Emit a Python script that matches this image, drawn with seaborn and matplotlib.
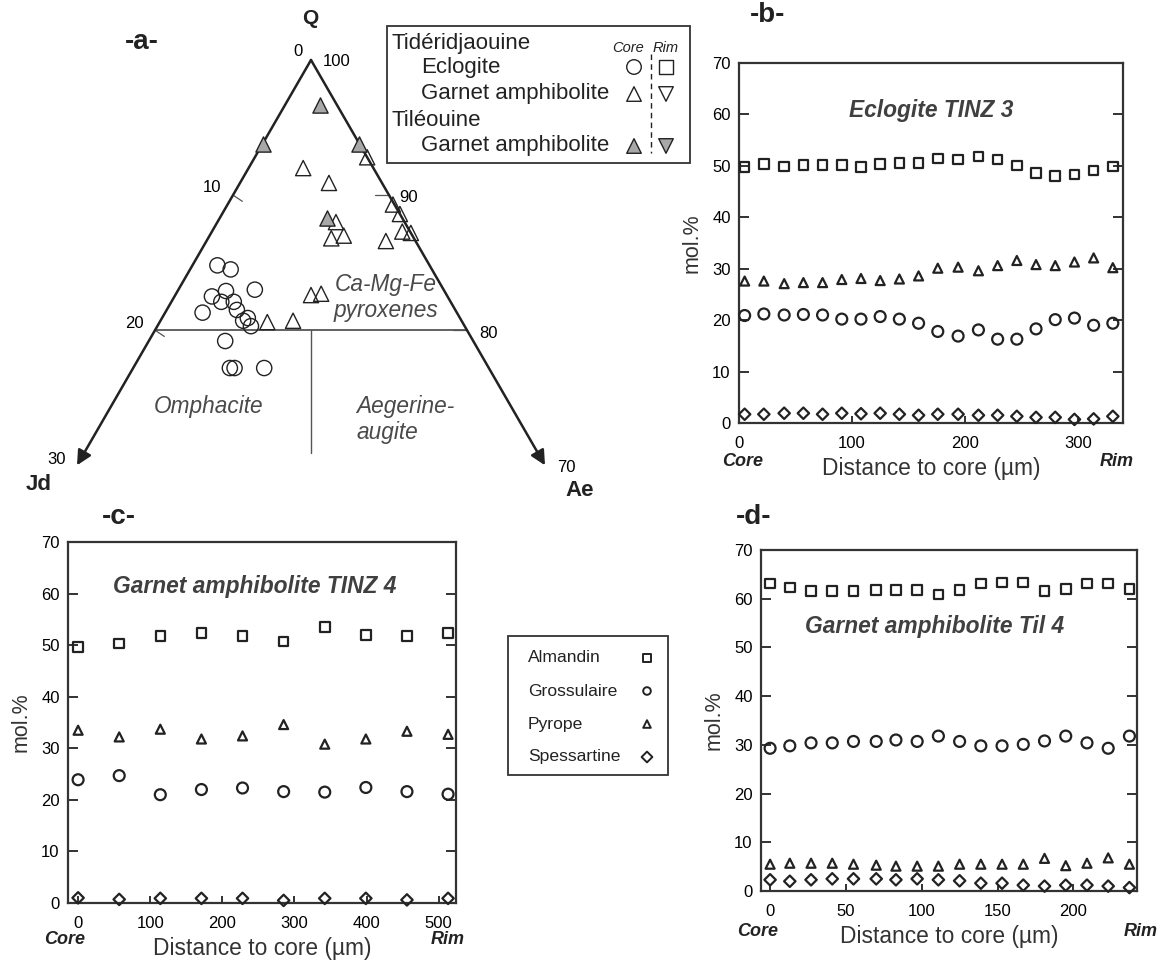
import numpy as np
import pandas as pd
import matplotlib
matplotlib.use("Agg")
import matplotlib.pyplot as plt
import seaborn as sns

sns.set_style("ticks")
plt.rcParams['font.family'] = ['Liberation Sans', 'DejaVu Sans']

# ==========================================
# DATA
# ==========================================

# -a- clinopyroxene Q / Jd (mol.%), Ae = 100 - Q - Jd
ecl_Q = [84.8, 84.5, 83.0, 82.9, 82.5, 82.1, 82.1, 81.3, 81.5, 80.9, 80.7, 80.3, 79.2, 77.2, 77.2, 77.2]
ecl_Jd = [13.6, 12.9, 12.1, 14.0, 15.1, 14.7, 13.9, 16.3, 14.0, 13.6, 14.0, 13.7, 15.9, 16.6, 16.3, 14.4]
amp_Q = [92.8, 92.0, 90.9, 89.3, 88.6, 88.0, 87.0, 86.8, 86.6, 87.3, 87.2, 82.6, 82.7, 80.6, 80.7]
amp_Jd = [0.0, 4.5, 3.4, 0.1, 0.0, 4.4, 4.4, 5.3, 1.9, 0.5, 0.0, 8.7, 8.0, 12.5, 10.8]
til_Q = [96.7, 93.8, 93.8, 88.3]
til_Jd = [1.1, 6.2, 0.0, 4.8]

# -b- Eclogite TINZ 3
b_dist = [5, 22, 40, 57, 74, 91, 108, 125, 142, 159, 176, 194, 212, 229, 246, 263, 280, 297, 314, 331]
b_alm = [49.8, 50.4, 49.9, 50.2, 50.2, 50.2, 49.8, 50.4, 50.6, 50.5, 51.4, 51.2, 51.8, 51.2, 50.1, 48.6, 48.0, 48.3, 49.1, 49.9]
b_grs = [20.9, 21.2, 21.0, 21.1, 21.0, 20.2, 20.2, 20.7, 20.2, 19.4, 17.8, 16.9, 18.1, 16.3, 16.3, 18.3, 20.1, 20.4, 19.0, 19.4]
b_prp = [27.6, 27.6, 27.1, 27.3, 27.3, 27.9, 28.1, 27.7, 28.0, 28.6, 30.1, 30.3, 29.6, 30.6, 31.6, 30.8, 30.6, 31.3, 32.1, 30.2]
b_sps = [1.7, 1.7, 1.9, 1.9, 1.7, 1.9, 1.8, 1.9, 1.7, 1.5, 1.7, 1.7, 1.5, 1.5, 1.3, 1.1, 1.1, 0.7, 0.8, 1.3]

# -c- Garnet amphibolite TINZ 4
c_dist = [0, 57, 114, 171, 228, 285, 342, 399, 456, 513]
c_alm = [49.7, 50.3, 51.8, 52.3, 51.8, 50.7, 53.5, 52.0, 51.8, 52.4]
c_grs = [23.9, 24.7, 21.0, 22.0, 22.3, 21.6, 21.5, 22.4, 21.6, 21.1]
c_prp = [33.5, 32.2, 33.7, 31.8, 32.4, 34.6, 30.8, 31.8, 33.3, 32.7]
c_sps = [1.0, 0.7, 0.9, 0.9, 0.9, 0.5, 0.9, 0.9, 0.6, 0.9]

# -d- Garnet amphibolite Til 4
d_dist = [0, 13, 27, 41, 55, 70, 83, 97, 111, 125, 139, 153, 167, 181, 195, 209, 223, 237]
d_alm = [63.1, 62.3, 61.6, 61.6, 61.6, 61.8, 61.8, 61.8, 60.9, 61.8, 63.1, 63.3, 63.3, 61.6, 62.0, 63.1, 63.1, 62.0]
d_grs = [29.3, 29.8, 30.4, 30.4, 30.7, 30.7, 31.0, 30.7, 31.8, 30.7, 29.8, 29.8, 30.1, 30.8, 31.8, 30.4, 29.3, 31.8]
d_prp = [5.5, 5.7, 5.7, 5.7, 5.5, 5.3, 5.1, 5.1, 5.1, 5.5, 5.5, 5.5, 5.5, 6.7, 5.2, 5.7, 6.8, 5.5]
d_sps = [2.3, 2.0, 2.3, 2.5, 2.5, 2.5, 2.3, 2.5, 2.3, 2.1, 1.6, 1.6, 1.2, 1.0, 1.2, 1.2, 1.0, 0.7]

members = ["Almandin", "Grossulaire", "Pyrope", "Spessartine"]
member_markers = {"Almandin": "s", "Grossulaire": "o", "Pyrope": "^", "Spessartine": "D"}
member_sizes = {"Almandin": 48, "Grossulaire": 62, "Pyrope": 42, "Spessartine": 34}

INK = "#222222"
W, H = 1165, 960


def tern_xy(Q, Jd):
    Q = np.asarray(Q, float) / 100
    Ae = 1 - Q - np.asarray(Jd, float) / 100
    return Ae + Q / 2, Q * np.sqrt(3) / 2


def px_box(x0, y0, x1, y1):
    return [x0 / W, 1 - y1 / H, (x1 - x0) / W, (y1 - y0) / H]


fig = plt.figure(figsize=(W / 100, H / 100), dpi=100)

# ==========================================
# -a- TERNARY
# ==========================================
ta = fig.add_axes(px_box(0, 0, 600, 480))
h = np.sqrt(3) / 2
ta.set_xlim(0.5 - 311 / 1560, 0.5 + 289 / 1560)
ta.set_ylim(h - 420 / 1560, h + 60 / 1560)
ta.axis("off")

apex = (0.5, h)
for end in [(0.35, 0.7 * h), (0.65, 0.7 * h)]:
    ta.annotate("", xy=end, xytext=apex,
                arrowprops=dict(arrowstyle="-|>", lw=1.8, color=INK,
                                mutation_scale=22, shrinkA=0, shrinkB=0))
ta.plot([0.4, 0.6], [0.8 * h, 0.8 * h], color="#555555", lw=1.3)
ta.plot([0.5, 0.5], [0.8 * h, h - 393 / 1560], color="#555555", lw=1.0)
# small ticks at 10 / 20 %
for q in [0.9, 0.8]:
    ta.plot([q / 2, q / 2 + 0.006], [q * h, q * h - 0.004], color="#555555", lw=0.9)
    ta.plot([1 - q / 2, 1 - q / 2 - 0.009], [q * h, q * h], color="#555555", lw=0.9)

ex, ey = tern_xy(ecl_Q, ecl_Jd)
sns.scatterplot(x=ex, y=ey, marker="o", s=120, facecolor="none", edgecolor=INK,
                linewidth=1.0, ax=ta, legend=False, zorder=3)
ax_, ay_ = tern_xy(amp_Q, amp_Jd)
sns.scatterplot(x=ax_, y=ay_, marker="^", s=120, facecolor="none", edgecolor=INK,
                linewidth=1.0, ax=ta, legend=False, zorder=3)
tx, ty = tern_xy(til_Q, til_Jd)
sns.scatterplot(x=tx, y=ty, marker="^", s=120, facecolor="#a8a8a8", edgecolor=INK,
                linewidth=1.0, ax=ta, legend=False, zorder=3)

# ==========================================
# -b- -c- -d- GARNET PROFILES
# ==========================================
panels = [
    ("b", px_box(739, 63, 1123, 423), b_dist, [b_alm, b_grs, b_prp, b_sps],
     (0, 340), [0, 100, 200, 300], "Eclogite TINZ 3"),
    ("c", px_box(68, 542, 456, 903), c_dist, [c_alm, c_grs, c_prp, c_sps],
     (-14, 524), [0, 100, 200, 300, 400, 500], "Garnet amphibolite TINZ 4"),
    ("d", px_box(761, 550, 1137, 891), d_dist, [d_alm, d_grs, d_prp, d_sps],
     (-6, 242), [0, 50, 100, 150, 200], "Garnet amphibolite Til 4"),
]
axes = {}
for key, box, dist, series, xlim, xticks, title in panels:
    ax = fig.add_axes(box)
    axes[key] = ax
    df = pd.DataFrame({"dist": dist})
    for name, vals in zip(members, series):
        df[name] = vals
    long = df.melt(id_vars="dist", var_name="member", value_name="mol")
    for name in members:
        sub = long[long["member"] == name]
        sns.scatterplot(data=sub, x="dist", y="mol", marker=member_markers[name],
                        s=member_sizes[name], facecolor="none", edgecolor=INK,
                        linewidth=1.6, ax=ax, legend=False, zorder=3, clip_on=False)
    ax.set_xlim(*xlim)
    ax.set_ylim(0, 70)
    ax.set_xticks(xticks)
    ax.set_yticks(range(0, 71, 10))
    ax.tick_params(axis="y", direction="in", right=True, length=7, width=1.3,
                   labelsize=12, pad=6, colors=INK, labelcolor="black")
    ax.tick_params(axis="x", direction="in", length=5, width=1.3,
                   labelsize=12, pad=9, colors=INK, labelcolor="black")
    for sp in ax.spines.values():
        sp.set_linewidth(1.6)
        sp.set_color("#333333")
    ax.set_xlabel("Distance to core (µm)", fontsize=16.4, color="#333333", labelpad=5)
    ax.set_ylabel("mol.%", fontsize=15.5, color="#333333", labelpad=7)

# ==========================================
# OVERLAY (labels, legends)
# ==========================================
ov = fig.add_axes([0, 0, 1, 1])
ov.set_xlim(0, W)
ov.set_ylim(H, 0)
ov.axis("off")

bold = dict(fontweight="bold", color=INK, ha="center", va="center")
ov.text(142, 42, "-a-", fontsize=20, **bold)
ov.text(768, 15, "-b-", fontsize=20, **bold)
ov.text(119, 517, "-c-", fontsize=20, **bold)
ov.text(754, 517, "-d-", fontsize=20, **bold)
ov.text(310, 18, "Q", fontsize=15, **bold)
ov.text(39, 485, "Jd", fontsize=16, **bold)
ov.text(580, 491, "Ae", fontsize=16, **bold)

num = dict(fontsize=12, color="black", ha="center", va="center")
for s, x, y in [("0", 298, 52), ("100", 337, 62), ("10", 212, 188), ("90", 409, 197),
                ("20", 134, 323), ("80", 488, 333), ("30", 57, 459), ("70", 566, 468)]:
    ov.text(x, y, s, **num)

reg = dict(fontsize=16.3, style="italic", color="#4a4a4a", va="center")
ov.text(386, 285, "Ca-Mg-Fe", ha="center", **reg)
ov.text(386, 311, "pyroxenes", ha="center", **reg)
ov.text(209, 406, "Omphacite", ha="center", **reg)
ov.text(356, 406, "Aegerine-", ha="left", **reg)
ov.text(356, 433, "augite", ha="left", **reg)

titles = {"b": (931, 110), "c": (255, 587), "d": (935, 627)}
for key, box, dist, series, xlim, xticks, title in panels:
    x, y = titles[key]
    ov.text(x, y, title, fontsize=16.4, fontweight="bold", style="italic",
            color="#404040", ha="center", va="center")

cr = dict(fontsize=13, fontweight="bold", style="italic", color=INK, ha="center", va="center")
for x0, x1, y in [(743, 1117, 462), (65, 448, 940), (758, 1141, 932)]:
    ov.text(x0, y, "Core", **cr)
    ov.text(x1, y, "Rim", **cr)

# top legend
ov.add_patch(plt.Rectangle((387, 26), 303, 137, fill=False, ec="#333333", lw=1.3))
lg = dict(fontsize=16, color=INK, ha="left", va="center")
ov.text(391, 43, "Tidéridjaouine", **lg)
ov.text(421, 68, "Eclogite", **lg)
ov.text(421, 94, "Garnet amphibolite", **lg)
ov.text(391, 120, "Tiléouine", **lg)
ov.text(421, 146, "Garnet amphibolite", **lg)
ov.text(628, 48, "Core", fontsize=10.5, style="italic", color=INK, ha="center", va="center")
ov.text(666, 48, "Rim", fontsize=10.5, style="italic", color=INK, ha="center", va="center")
ov.plot([651, 651], [54, 153], color=INK, lw=1.0, ls=(0, (4, 3)))
sns.scatterplot(x=[634, 634, 634], y=[67, 94, 146], style=["c", "t", "t2"],
                markers={"c": "o", "t": "^", "t2": "^"}, s=110, ax=ov, legend=False,
                facecolor=["none", "none", "#a8a8a8"], edgecolor=INK, linewidth=1.0)
sns.scatterplot(x=[666, 666, 666], y=[67, 94, 146], style=["s", "v", "v2"],
                markers={"s": "s", "v": "v", "v2": "v"}, s=110, ax=ov, legend=False,
                facecolor=["none", "none", "#a8a8a8"], edgecolor=INK, linewidth=1.0)

# middle legend
ov.add_patch(plt.Rectangle((508, 636), 160, 139, fill=False, ec="#333333", lw=1.3))
for i, name in enumerate(members):
    y = 658 + 33 * i
    ov.text(528, y, name, fontsize=12.6, color=INK, ha="left", va="center")
    sns.scatterplot(x=[647], y=[y], marker=member_markers[name], s=30,
                    facecolor="none", edgecolor=INK, linewidth=1.4, ax=ov, legend=False)

fig.savefig("out.png", dpi=100)
